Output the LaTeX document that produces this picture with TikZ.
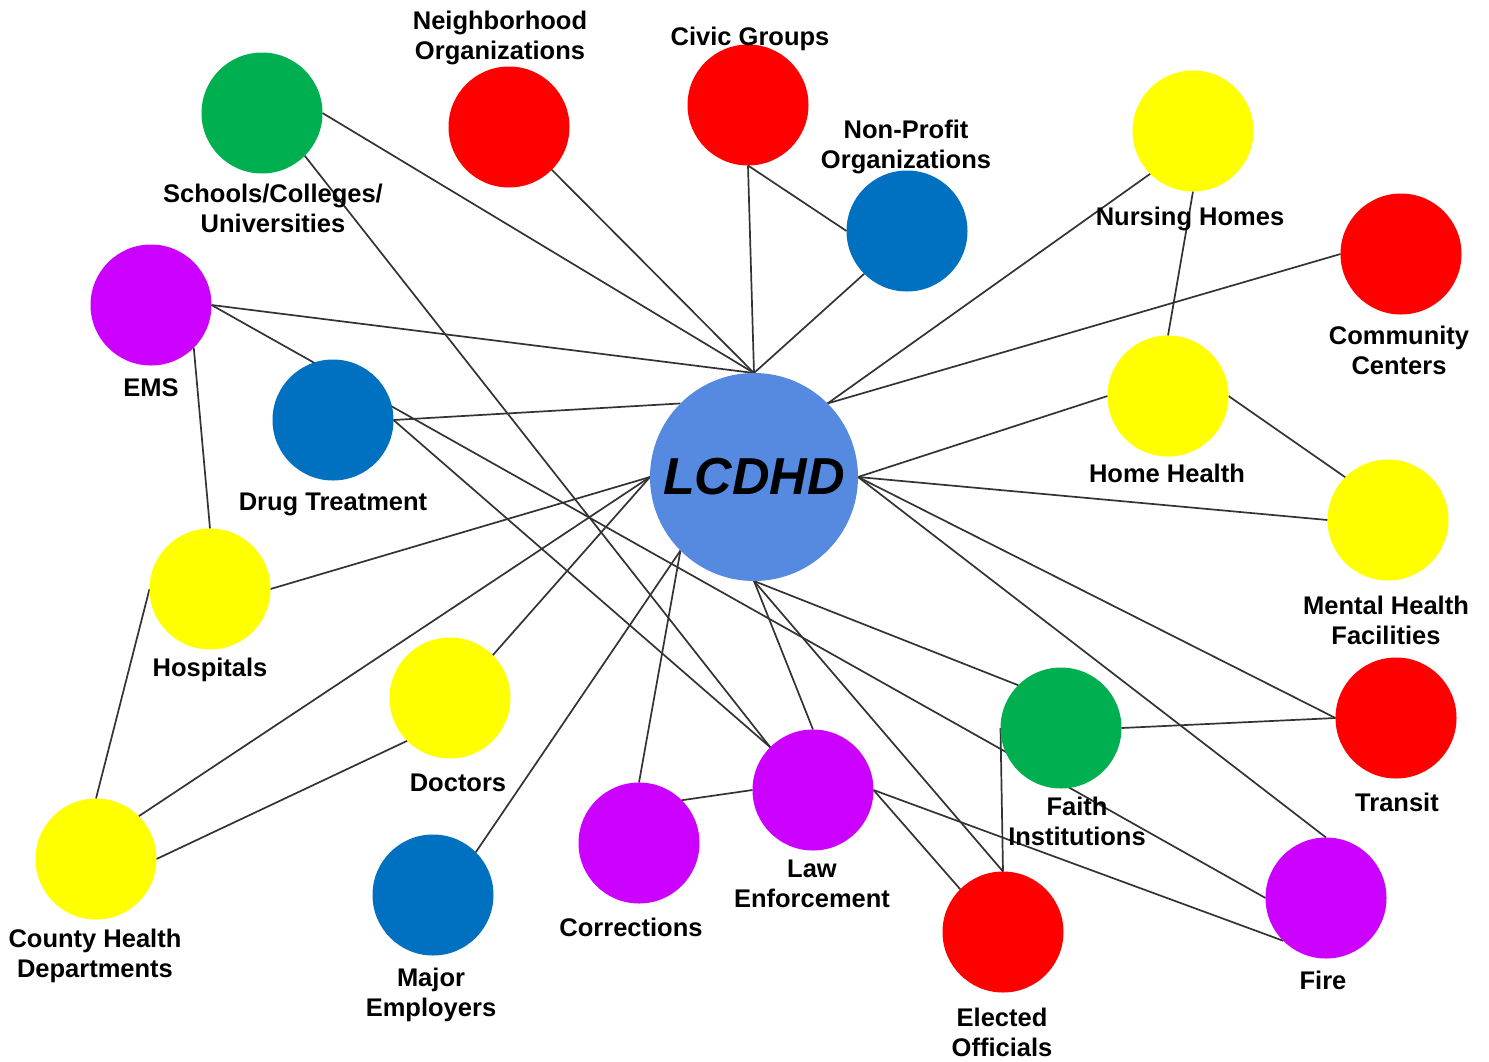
\documentclass[tikz,border=0pt]{standalone}
\usepackage{fontspec}
\setmainfont{Liberation Sans}
\usetikzlibrary{backgrounds}
\definecolor{cgreen}{HTML}{00B050}
\definecolor{cred}{HTML}{FF0000}
\definecolor{cblue}{HTML}{0070C0}
\definecolor{cyellow}{HTML}{FFFF00}
\definecolor{cpurple}{HTML}{CC00FF}
\definecolor{ccore}{HTML}{558AE0}
\begin{document}
\begin{tikzpicture}[x=1pt,y=-1pt,
  hub/.style={circle, minimum size=121pt, inner sep=0pt, outer sep=0pt, draw=none},
  lbl/.style={font=\fontsize{25.5}{30}\selectfont\bfseries, align=center, inner sep=0pt},
  link/.style={draw=black!80, line width=1.7pt}]
\useasboundingbox (0,0) rectangle (1489,1061);

% circles
\node[hub, minimum size=208pt, fill=ccore] (lcdhd) at (754,477)
  {\fontsize{52}{60}\selectfont\bfseries\itshape LCDHD};
\node[hub, fill=cgreen]  (schools)    at (262,113) {};
\node[hub, fill=cred]    (neigh)      at (509,127) {};
\node[hub, fill=cred]    (civic)      at (748,105) {};
\node[hub, fill=cblue]   (nonprofit)  at (907,231) {};
\node[hub, fill=cyellow] (nursing)    at (1193,131) {};
\node[hub, fill=cred]    (community)  at (1401,254) {};
\node[hub, fill=cpurple] (ems)        at (151,305) {};
\node[hub, fill=cblue]   (drug)       at (333,420) {};
\node[hub, fill=cyellow] (homehealth) at (1168,396) {};
\node[hub, fill=cyellow] (mental)     at (1388,520) {};
\node[hub, fill=cyellow] (hospitals)  at (210,589) {};
\node[hub, fill=cyellow] (doctors)    at (450,698) {};
\node[hub, fill=cgreen]  (faith)      at (1061,728) {};
\node[hub, fill=cred]    (transit)    at (1396,718) {};
\node[hub, fill=cyellow] (county)     at (96,859) {};
\node[hub, fill=cblue]   (major)      at (433,895) {};
\node[hub, fill=cpurple] (corrections) at (639,843) {};
\node[hub, fill=cpurple] (law)        at (813,790) {};
\node[hub, fill=cred]    (elected)    at (1003,932) {};
\node[hub, fill=cpurple] (fire)       at (1326,898) {};

% connectors
\begin{scope}[on background layer]
\fill[white] (0,0) rectangle (1489,1061);
\draw[link] (schools.east) -- (lcdhd.north);
\draw[link] (schools.-45) -- (law.135);
\draw[link] (neigh.-45) -- (lcdhd.north);
\draw[link] (civic.south) -- (lcdhd.north);
\draw[link] (civic.south) -- (nonprofit.west);
\draw[link] (nonprofit.-135) -- (lcdhd.north);
\draw[link] (nursing.-135) -- (lcdhd.45);
\draw[link] (nursing.south) -- (homehealth.north);
\draw[link] (community.west) -- (lcdhd.45);
\draw[link] (ems.east) -- (lcdhd.north);
\draw[link] (ems.east) -- (fire.west);
\draw[link] (ems.-45) -- (hospitals.north);
\draw[link] (drug.east) -- (lcdhd.135);
\draw[link] (drug.east) -- (law.135);
\draw[link] (homehealth.west) -- (lcdhd.east);
\draw[link] (homehealth.east) -- (mental.135);
\draw[link] (mental.west) -- (lcdhd.east);
\draw[link] (hospitals.east) -- (lcdhd.west);
\draw[link] (hospitals.west) -- (county.north);
\draw[link] (doctors.45) -- (lcdhd.west);
\draw[link] (doctors.-135) -- (county.east);
\draw[link] (county.45) -- (lcdhd.west);
\draw[link] (major.45) -- (lcdhd.-135);
\draw[link] (corrections.north) -- (lcdhd.-135);
\draw[link] (corrections.45) -- (law.west);
\draw[link] (law.north) -- (lcdhd.south);
\draw[link] (law.east) -- (elected.135);
\draw[link] (law.east) -- (fire.-135);
\draw[link] (lcdhd.south) -- (faith.135);
\draw[link] (lcdhd.south) -- (elected.north);
\draw[link] (faith.west) -- (elected.north);
\draw[link] (faith.east) -- (transit.west);
\draw[link] (lcdhd.east) -- (transit.west);
\draw[link] (lcdhd.east) -- (fire.north);
\end{scope}

% labels
\node[lbl] (l-neigh)      at (500,38)   {Neighborhood\\Organizations};
\node[lbl] (l-civic)      at (750,39)   {Civic Groups};
\node[lbl] (l-nonprofit)  at (906,147)  {Non-Profit\\Organizations};
\node[lbl] (l-schools)    at (273,208)  {Schools/Colleges/\\Universities};
\node[lbl] (l-nursing)    at (1190,219) {Nursing Homes};
\node[lbl] (l-community)  at (1399,350) {Community\\Centers};
\node[lbl] (l-ems)        at (151,388)  {EMS};
\node[lbl] (l-drug)       at (333,504)  {Drug Treatment};
\node[lbl] (l-homehealth) at (1167,473) {Home Health};
\node[lbl] (l-mental)     at (1386,620) {Mental Health\\Facilities};
\node[lbl] (l-hospitals)  at (210,670)  {Hospitals};
\node[lbl] (l-doctors)    at (458,783)  {Doctors};
\node[lbl] (l-faith)      at (1077,821) {Faith\\Institutions};
\node[lbl] (l-transit)    at (1397,802) {Transit};
\node[lbl] (l-county)     at (95,956)   {County Health\\Departments};
\node[lbl] (l-major)      at (431,995)  {Major\\Employers};
\node[lbl] (l-corrections) at (631,927) {Corrections};
\node[lbl] (l-law)        at (812,884)  {Law\\Enforcement};
\node[lbl] (l-elected)    at (1002,1032) {Elected\\Officials};
\node[lbl] (l-fire)       at (1323,980) {Fire};
\end{tikzpicture}
\end{document}
